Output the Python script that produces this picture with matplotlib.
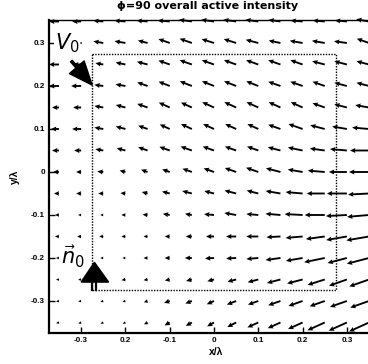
import numpy as np
import matplotlib
matplotlib.use("Agg")
import matplotlib.pyplot as plt
from matplotlib.patches import Polygon

# grid positions (in wavelengths)
x_pos = [-0.35, -0.30, -0.25, -0.20, -0.15, -0.10, -0.05, 0.0, 0.05, 0.10, 0.15, 0.20, 0.25, 0.30, 0.35]
y_pos = [0.35, 0.30, 0.25, 0.20, 0.15, 0.10, 0.05, 0.0, -0.05, -0.10, -0.15, -0.20, -0.25, -0.30, -0.35]

# intensity magnitude (arbitrary units), rows from top (y=0.35) to bottom (y=-0.35)
magnitude = [
    [10, 9, 10, 11, 11, 12, 13, 13, 13, 13, 12, 12, 12, 12, 13],
    [4, 1, 10, 11, 10, 12, 13, 13, 13, 13, 12, 13, 13, 13, 13],
    [10, 8, 8, 10, 11, 12, 13, 13, 13, 13, 13, 13, 13, 13, 13],
    [10, 10, 9, 10, 11, 12, 13, 13, 13, 13, 13, 13, 13, 13, 13],
    [7, 8, 9, 10, 11, 12, 12, 13, 13, 13, 13, 13, 13, 13, 14],
    [8, 9, 9, 10, 10, 11, 12, 12, 12, 12, 13, 15, 15, 15, 17],
    [7, 7, 8, 9, 10, 11, 12, 12, 12, 12, 13, 15, 15, 17, 19],
    [6, 5, 6, 6, 7, 8, 10, 11, 12, 13, 15, 15, 17, 18, 20],
    [5, 5, 5, 5, 6, 8, 10, 10, 12, 12, 15, 17, 18, 20, 21],
    [4, 3, 3, 4, 5, 7, 7, 10, 12, 12, 15, 18, 20, 21, 22],
    [4, 4, 4, 4, 4, 5, 6, 8, 10, 12, 14, 17, 19, 21, 23],
    [3, 3, 3, 3, 4, 5, 7, 9, 10, 12, 15, 17, 21, 20, 23],
    [3, 3, 3, 4, 4, 5, 6, 7, 9, 11, 14, 16, 18, 19, 21],
    [3, 3, 3, 3, 4, 6, 7, 8, 10, 11, 13, 15, 16, 18, 20],
    [3, 3, 3, 3, 4, 6, 7, 8, 10, 12, 14, 16, 19, 20, 22],
]

# tilt of the arrow above the leftward direction (degrees, positive = up-left)
tilt = [
    [0, 0, 5, 5, 5, 5, 8, 8, 8, 8, 8, 5, 5, 5, 10],
    [0, 0, 10, 10, 15, 20, 20, 18, 18, 15, 12, 10, 10, 8, 20],
    [0, 0, 10, 12, 15, 20, 20, 20, 20, 20, 20, 20, 15, 15, 15],
    [0, 0, 8, 10, 20, 22, 22, 22, 22, 22, 20, 20, 20, 15, 15],
    [0, 0, 10, 15, 20, 25, 25, 25, 25, 25, 25, 25, 20, 15, 10],
    [0, 0, 10, 15, 20, 25, 25, 25, 25, 25, 20, 20, 15, 10, 5],
    [0, 0, 10, 15, 20, 20, 20, 20, 20, 20, 15, 12, 8, 5, 0],
    [0, 0, 5, 15, 20, 20, 20, 20, 20, 20, 15, 10, 5, 0, 0],
    [0, 0, 0, 5, 15, 15, 15, 15, 15, 15, 10, 5, 0, 0, -3],
    [0, 0, 0, 0, 5, 10, 10, 5, 10, 5, 5, 3, 0, -3, -5],
    [0, 0, 0, 0, 0, 0, 0, 0, 0, 0, -3, -5, -8, -10, -10],
    [0, 0, 0, 0, 0, 0, 0, -3, -3, -5, -8, -10, -12, -15, -15],
    [-5, -5, -8, -10, -10, -12, -15, -15, -15, -15, -15, -15, -18, -20, -20],
    [-10, -10, -15, -15, -20, -20, -22, -25, -22, -20, -20, -20, -20, -20, -20],
    [-15, -20, -25, -25, -28, -30, -30, -30, -28, -25, -25, -25, -25, -25, -25],
]

x_ticks = [-0.3, -0.2, -0.1, 0.0, 0.1, 0.2, 0.3]
x_ticklabels = ["-0.3", "0.2", "-0.1", "0", "0.1", "0.2", "0.3"]
y_ticks = [0.3, 0.2, 0.1, 0.0, -0.1, -0.2, -0.3]
y_ticklabels = ["0.3", "0.2", "0.1", "0", "-0.1", "-0.2", "-0.3"]
box_half = 0.275

X, Y = np.meshgrid(np.array(x_pos), np.array(y_pos))
M = np.array(magnitude, dtype=float)
T = np.deg2rad(np.array(tilt, dtype=float))
U = -M * np.cos(T)
V = M * np.sin(T)

plt.rcParams['font.family'] = ['Liberation Sans', 'DejaVu Sans']
fig = plt.figure(figsize=(3.68, 3.64), dpi=100)
ax = fig.add_axes([0.1332, 0.0852, 0.9057, 0.8599])
ax.set_xlim(-0.3725, 0.38)
ax.set_ylim(-0.3744, 0.3535)

ax.quiver(X, Y, U, V, angles='xy', scale_units='xy', scale=443, pivot='tail',
          width=0.0056, headwidth=2.7, headlength=2.9, headaxislength=2.6,
          color='black', clip_on=False, zorder=3)

# dotted box
bx = [-box_half, box_half, box_half, -box_half, -box_half]
by = [box_half, box_half, -box_half, -box_half, box_half]
ax.plot(bx, by, linestyle=(0, (1, 1)), color='black', lw=1.0, zorder=2)

# V0 arrow
ax.annotate('', xy=(-0.275, 0.202), xytext=(-0.322, 0.258),
            arrowprops=dict(facecolor='black', edgecolor='black', width=1.6,
                            headwidth=14, headlength=17, shrink=0), zorder=5)
ax.text(-0.332, 0.300, r'$V_0$', fontsize=15, family='DejaVu Serif',
        ha='center', va='center', zorder=6,
        bbox=dict(facecolor='white', edgecolor='none', pad=0.5))

# n0 arrow (up)
head = Polygon([(-0.300, -0.256), (-0.238, -0.256), (-0.270, -0.210)],
               closed=True, facecolor='black', edgecolor='black', zorder=5)
ax.add_patch(head)
ax.plot([-0.2755, -0.2755], [-0.274, -0.256], color='black', lw=1.6, zorder=5)
ax.plot([-0.2665, -0.2665], [-0.274, -0.256], color='black', lw=1.6, zorder=5)
ax.text(-0.318, -0.197, r'$\vec{n}_0$', fontsize=15, family='DejaVu Serif',
        ha='center', va='center', zorder=6,
        bbox=dict(facecolor='white', edgecolor='none', pad=0.3))

ax.set_xticks(x_ticks)
ax.set_xticklabels(x_ticklabels)
ax.set_yticks(y_ticks)
ax.set_yticklabels(y_ticklabels)
ax.tick_params(direction='in', length=4, width=1, labelsize=5.8, pad=3)
for lab in ax.get_xticklabels() + ax.get_yticklabels():
    lab.set_fontweight('bold')

ax.spines['left'].set_linewidth(1.6)
ax.spines['bottom'].set_linewidth(1.6)
ax.spines['top'].set_linewidth(1.0)
ax.spines['right'].set_visible(False)

ax.set_xlabel('x/λ', fontsize=7.5, fontweight='bold', labelpad=2)
ax.set_ylabel('y/λ', fontsize=7.5, fontweight='bold', labelpad=8)
fig.text(0.565, 0.998, 'ϕ=90 overall active intensity', fontsize=8,
         fontweight='bold', ha='center', va='top', family='DejaVu Sans')

fig.savefig('out.png', dpi=100)
